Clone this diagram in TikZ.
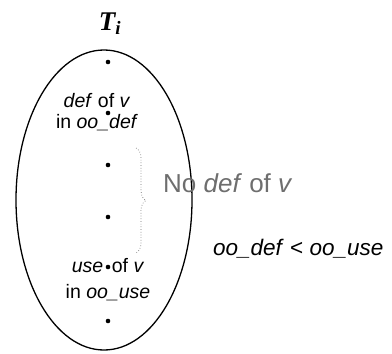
\documentclass[tikz,border=0pt]{standalone}
\usepackage{fontspec}
\setmainfont{Liberation Sans}
\newfontfamily\timesfont{Liberation Serif}
\definecolor{soft}{RGB}{110,110,110}
\usetikzlibrary{positioning,decorations.pathreplacing}

\begin{document}
\begin{tikzpicture}[x=1pt,y=-1pt,
    pt/.style={circle,fill,inner sep=0pt,minimum size=4.6pt},
    lbl/.style={font=\fontsize{19.5}{22}\selectfont,inner sep=0pt,anchor=base}]
        \useasboundingbox (0,0) rectangle (392,354);
        \node[font=\timesfont\fontsize{27}{30}\selectfont\bfseries\itshape,inner sep=0pt,anchor=base]
          (title) at (110,30) {T\textsubscript{i}};
        \draw[line width=1.3pt] (104,200) ellipse [x radius=88, y radius=150];
        % points of T_i
        \foreach \i/\y in {1/62,2/113,3/165,4/217,5/267,6/321}
          \node[pt] (d\i) at (108,\y) {};
        \node[lbl] (def1) at (97,107) {\textit{def} of \textit{v}};
        \node[lbl] (def2) at (97,128) {in \textit{oo\_def}};
        \node[lbl] (use1) at (108,272) {\textit{use}\,\phantom{.}of \textit{v}};
        \node[lbl] (use2) at (108,298) {in \textit{oo\_use}};
        % no redefinition between the two
        \coordinate (bt) at (136,148);
        \coordinate (bb) at (136,253);
        \draw[soft,line width=0.7pt,dotted,decorate,decoration={brace,amplitude=10pt}] (bt) -- (bb);
        \node[font=\fontsize{26}{30}\selectfont,text=soft,inner sep=0pt,anchor=base west]
          (nodef) at (163,192) {No \textit{def} of \textit{v}};
        \node[font=\fontsize{22.5}{26}\selectfont,inner sep=0pt,anchor=base west]
          (order) at (213,255) {\textit{oo\_def} < \textit{oo\_use}};
      \end{tikzpicture}
\end{document}
